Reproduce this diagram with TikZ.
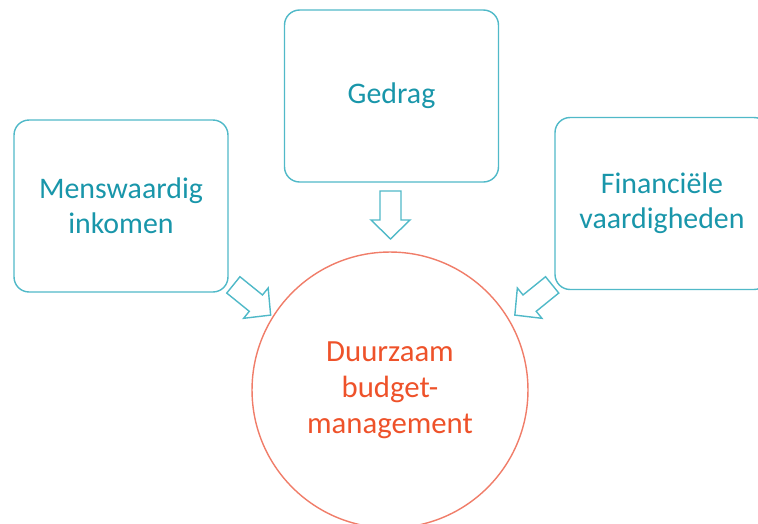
\documentclass[tikz,border=0pt]{standalone}
\usepackage{fontspec}
\setmainfont{Carlito}
\definecolor{boxcol}    {RGB}{80,185,200}
\definecolor{boxtextcol}{RGB}{25,150,170}
\definecolor{goalcol}   {RGB}{240,125,105}
\definecolor{goaltextcol}{RGB}{238,82,42}

\begin{document}
\begin{tikzpicture}[x=0.02cm, y=-0.02cm,
    factor/.style={draw=boxcol, line width=0.8pt, rounded corners=0.3cm,
        minimum width=4.28cm, minimum height=3.44cm, align=center,
        text=boxtextcol, font=\fontsize{17}{20}\selectfont},
    inflow/.pic={
        \draw[boxcol, line width=0.8pt, line join=miter]
            (-24,-10.5) -- (5,-10.5) -- (5,-19.5) -- (24,0)
            -- (5,19.5) -- (5,10.5) -- (-24,10.5) -- cycle;
    }]

\useasboundingbox (0,0) rectangle (758,524);
\clip (0,0) rectangle (758,524);

% Three factors
\node[factor] (income)    at (121,206)    {Menswaardig\\inkomen};
\node[factor] (behaviour) at (391.5,96)   {Gedrag};
\node[factor] (skills)    at (662,203.5)  {Financiële\\vaardigheden};

% Goal in the middle
\node[circle, draw=goalcol, line width=0.8pt, minimum size=5.52cm,
      align=center, text=goaltextcol, font=\fontsize{17.5}{20.5}\selectfont]
      (budget) at (390,390) {Duurzaam\\budget-\\management};

% Block arrows towards the goal
\pic[rotate=-39]  at (252,300)   {inflow};
\pic[rotate=-90]  at (390.5,215) {inflow};
\pic[rotate=-141] at (533.5,300) {inflow};

\end{tikzpicture}
\end{document}
